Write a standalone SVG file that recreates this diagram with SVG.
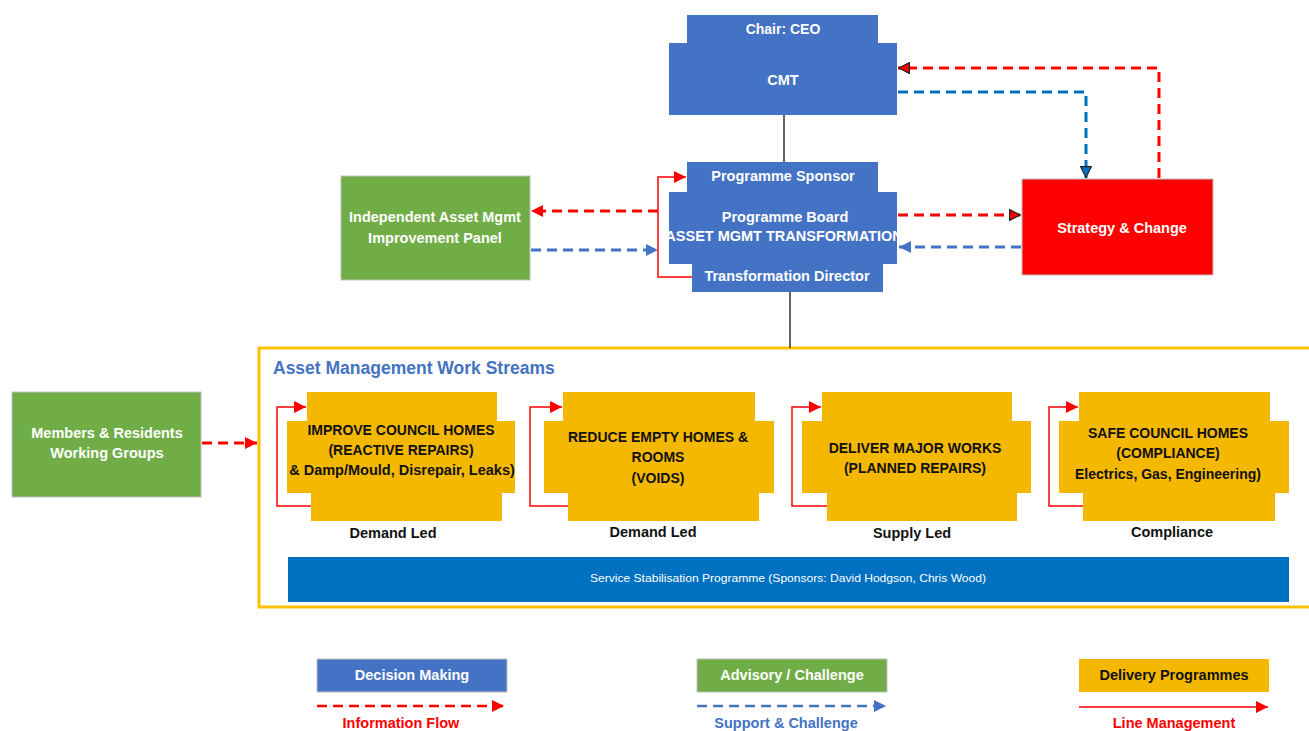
<svg xmlns="http://www.w3.org/2000/svg" width="1309" height="731" viewBox="0 0 1309 731">
<style>
text{font-family:"Liberation Sans",Arial,sans-serif;font-weight:bold;text-anchor:middle}
.w{fill:#fff;font-size:14.5px}
.k{fill:#111;font-size:14.5px}
.kc{fill:#111;font-size:14px}
.blue{fill:#4472C4}
.green{fill:#70AD47;stroke:#bfbfbf;stroke-width:1}
.yel{fill:#F5B800}
.rdash{fill:none;stroke:#FF0000;stroke-width:3;stroke-dasharray:10 6}
.bdash{fill:none;stroke:#4472C4;stroke-width:3;stroke-dasharray:10 6}
.bdash2{fill:none;stroke:#0070C0;stroke-width:3;stroke-dasharray:10 6}
.loop{fill:none;stroke:#FF0000;stroke-width:1.5}
.solid{fill:none;stroke:#333;stroke-width:1.5}
</style>
<defs>
<marker id="aR" viewBox="0 0 10 10" refX="10" refY="5" markerWidth="13" markerHeight="12" markerUnits="userSpaceOnUse" orient="auto"><path d="M0,0 L10,5 L0,10 z" fill="#FF0000"/></marker>
<marker id="aRk" viewBox="0 0 10 10" refX="10" refY="5" markerWidth="13" markerHeight="12" markerUnits="userSpaceOnUse" orient="auto"><path d="M0.5,0.5 L9.5,5 L0.5,9.5 z" fill="#FF0000" stroke="#222" stroke-width="1"/></marker>
<marker id="aB" viewBox="0 0 10 10" refX="10" refY="5" markerWidth="13" markerHeight="12" markerUnits="userSpaceOnUse" orient="auto"><path d="M0,0 L10,5 L0,10 z" fill="#4472C4"/></marker>
<marker id="aBk" viewBox="0 0 10 10" refX="10" refY="5" markerWidth="13" markerHeight="12" markerUnits="userSpaceOnUse" orient="auto"><path d="M0.5,0.5 L9.5,5 L0.5,9.5 z" fill="#0070C0" stroke="#222" stroke-width="1"/></marker>
<marker id="aL" viewBox="0 0 10 10" refX="10" refY="5" markerWidth="16" markerHeight="12" markerUnits="userSpaceOnUse" orient="auto"><path d="M0,0 L10,5 L0,10 z" fill="#FF0000"/></marker>
<clipPath id="pbclip"><rect x="669" y="192" width="228" height="72"/></clipPath>
</defs>
<rect width="1309" height="731" fill="#fff"/>

<g id="container">
<rect x="259" y="348" width="1060" height="259" fill="none" stroke="#FFC000" stroke-width="3"/>
<text x="273" y="374" style="fill:#4472C4;font-size:17.5px;text-anchor:start">Asset Management Work Streams</text>
</g>

<g id="connectors">
<path class="solid" d="M784,115 L784,162"/>
<path class="solid" d="M790,292 L790,348"/>
<path class="loop" d="M693,277 L658,277 L658,177 L686,177" marker-end="url(#aL)"/>
<path class="rdash" d="M658,211 L531,211" marker-end="url(#aR)"/>
<path class="bdash" d="M531,250 L658,250" marker-end="url(#aB)"/>
<path class="rdash" d="M898,215 L1021,215" marker-end="url(#aRk)"/>
<path class="bdash" d="M1021,247 L899,247" marker-end="url(#aB)"/>
<path class="rdash" d="M1159,178 L1159,68 L898,68" marker-end="url(#aRk)"/>
<path class="bdash2" d="M898,92 L1086,92 L1086,178" marker-end="url(#aBk)"/>
<path class="rdash" d="M202,443 L257,443" marker-end="url(#aR)"/>
<path class="loop" d="M311,506 L277,506 L277,407 L306,407" marker-end="url(#aL)"/>
<path class="loop" d="M568,506 L530,506 L530,407 L562,407" marker-end="url(#aL)"/>
<path class="loop" d="M827,506 L792,506 L792,407 L821,407" marker-end="url(#aL)"/>
<path class="loop" d="M1083,506 L1049,506 L1049,407 L1078,407" marker-end="url(#aL)"/>
</g>

<g id="cmt">
<rect class="blue" x="687" y="15" width="191" height="29"/>
<rect class="blue" x="669" y="43" width="228" height="72"/>
<text class="w" x="783" y="34" style="font-size:14px">Chair: CEO</text>
<text class="w" x="783" y="85">CMT</text>
</g>

<g id="programme-board">
<rect class="blue" x="687" y="162" width="191" height="31"/>
<rect class="blue" x="669" y="192" width="228" height="72"/>
<rect class="blue" x="692" y="263" width="191" height="29"/>
<text class="w" x="783" y="181">Programme Sponsor</text>
<text class="w" x="785" y="222">Programme Board</text>
<text class="w" x="784" y="241" clip-path="url(#pbclip)">ASSET MGMT TRANSFORMATION</text>
<text class="w" x="787" y="281">Transformation Director</text>
</g>

<g id="independent-panel">
<rect class="green" x="341" y="176" width="189" height="104"/>
<text class="w" x="435" y="222">Independent Asset Mgmt</text>
<text class="w" x="435" y="243">Improvement Panel</text>
</g>

<g id="strategy-change">
<rect x="1022" y="179" width="191" height="96" fill="#FF0000" stroke="#bfbfbf" stroke-width="1"/>
<text class="w" x="1122" y="233">Strategy &amp; Change</text>
</g>

<g id="members-residents">
<rect class="green" x="12" y="392" width="189" height="105"/>
<text class="w" x="107" y="438">Members &amp; Residents</text>
<text class="w" x="107" y="458">Working Groups</text>
</g>

<g id="ws1">
<rect class="yel" x="307" y="392" width="190" height="30"/>
<rect class="yel" x="287" y="421" width="228" height="72"/>
<rect class="yel" x="311" y="492" width="191" height="29"/>
<text class="kc" x="401" y="435">IMPROVE COUNCIL HOMES</text>
<text class="kc" x="401" y="455">(REACTIVE REPAIRS)</text>
<text class="k" x="402" y="475">&amp; Damp/Mould, Disrepair, Leaks)</text>
<text class="k" x="393" y="538">Demand Led</text>
</g>

<g id="ws2">
<rect class="yel" x="563" y="392" width="192" height="30"/>
<rect class="yel" x="544" y="421" width="230" height="72"/>
<rect class="yel" x="568" y="492" width="191" height="29"/>
<text class="kc" x="658" y="442">REDUCE EMPTY HOMES &amp;</text>
<text class="kc" x="658" y="462">ROOMS</text>
<text class="kc" x="658" y="483">(VOIDS)</text>
<text class="k" x="653" y="537">Demand Led</text>
</g>

<g id="ws3">
<rect class="yel" x="822" y="392" width="190" height="30"/>
<rect class="yel" x="802" y="421" width="229" height="72"/>
<rect class="yel" x="827" y="492" width="190" height="29"/>
<text class="kc" x="915" y="453">DELIVER MAJOR WORKS</text>
<text class="kc" x="915" y="473">(PLANNED REPAIRS)</text>
<text class="k" x="912" y="538">Supply Led</text>
</g>

<g id="ws4">
<rect class="yel" x="1079" y="392" width="191" height="30"/>
<rect class="yel" x="1059" y="421" width="230" height="72"/>
<rect class="yel" x="1083" y="492" width="192" height="29"/>
<text class="kc" x="1168" y="438">SAFE COUNCIL HOMES</text>
<text class="kc" x="1168" y="458">(COMPLIANCE)</text>
<text class="k" x="1168" y="479" style="font-size:14px">Electrics, Gas, Engineering)</text>
<text class="k" x="1172" y="537">Compliance</text>
</g>

<g id="stabilisation">
<rect x="288" y="557" width="1001" height="45" fill="#0070C0"/>
<text x="788" y="582" textLength="396" lengthAdjust="spacingAndGlyphs" style="fill:#fff;font-size:11px;font-weight:normal">Service Stabilisation Programme (Sponsors: David Hodgson, Chris Wood)</text>
</g>

<g id="legend">
<rect class="blue" x="317" y="659" width="190" height="33" stroke="#bfbfbf" stroke-width="1"/>
<text class="w" x="412" y="680">Decision Making</text>
<path class="rdash" d="M317,706 L504,706" marker-end="url(#aR)" style="stroke-width:2.5"/>
<text x="401" y="728" style="fill:#FF0000;font-size:14.5px">Information Flow</text>
<rect class="green" x="697" y="659" width="190" height="33"/>
<text class="w" x="792" y="680">Advisory / Challenge</text>
<path class="bdash" d="M697,706 L886,706" marker-end="url(#aB)" style="stroke-width:2.5"/>
<text x="786" y="728" style="fill:#4472C4;font-size:14.5px">Support &amp; Challenge</text>
<rect class="yel" x="1079" y="659" width="190" height="33"/>
<text class="k" x="1174" y="680">Delivery Programmes</text>
<path d="M1079,707 L1268,707" fill="none" stroke="#FF0000" stroke-width="1.5" marker-end="url(#aL)"/>
<text x="1174" y="728" style="fill:#FF0000;font-size:14.5px">Line Management</text>
</g>
</svg>
